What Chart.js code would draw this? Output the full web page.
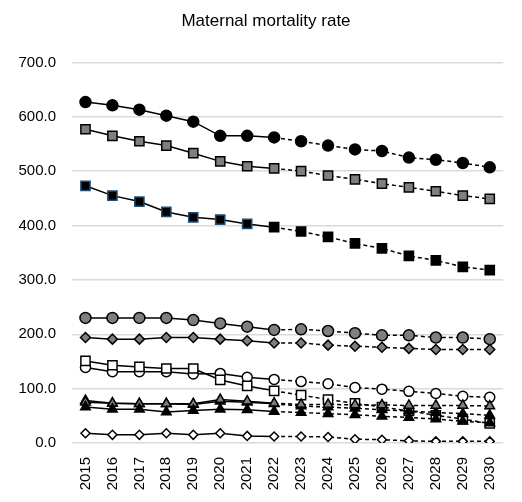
<!DOCTYPE html>
<html>
<head>
<meta charset="utf-8">
<script src="https://cdn.jsdelivr.net/npm/chart.js@4"></script>
<style>
  body{margin:0;background:#fff;overflow:hidden;}
  #wrap{width:522px;height:502px;}
</style>
</head>
<body>
<div id="wrap"><canvas id="chart"></canvas></div>
<script>
// ================= DATA =================
const years = ["2015","2016","2017","2018","2019","2020","2021","2022","2023","2024","2025","2026","2027","2028","2029","2030"];
const yTicks = [0,100,200,300,400,500,600,700];

const blackCircle  = [627,621,613,602,591,565,565,562,555,547,540,537,525,521,515,507];
const greySquare   = [577,565,555,547,533,518,509,505,500,492,485,477,470,463,455,449];
const blackSquare  = [473,455,444,425,415,411,403,397,389,379,367,358,344,336,324,318];
const greyCircle   = [230,230,230,230,226,220,214,208,209,206,202,198,198,194,194,191];
const greyDiamond  = [194,191,191,194,194,191,188,184,184,180,178,176,174,172,172,172];
const whiteCircle  = [139,131,131,131,127,128,121,117,113,109,102,99,95,91,86,84];
const whiteSquare  = [151,143,140,137,137,116,105,96,88,80,73,66,59,51,44,36];
const greyTriangle = [75,73,72,72,72,80,77,73,71,71,70,70,69,69,69,68];
const blackTriA    = [78,73,72,72,71,77,75,72,68,66,64,61,59,56,54,51];
const blackTriB    = [66,62,62,57,60,62,61,58,56,54,52,49,47,44,40,37];
const whiteDiamond = [18,15,15,18,15,18,13,12,12,11,7,6,4,3,3,3];

const lastActual = 7; // 2022: last observed year, dashed after

// ================= SERIES =================
function series(data, style, fill, radius, border){
  return {
    data: data,
    borderColor: "#000",
    borderWidth: 1.5,
    pointStyle: style,
    pointRadius: radius,
    pointBackgroundColor: fill,
    pointBorderColor: border || "#000",
    pointBorderWidth: 1.5,
    fill: false,
    tension: 0,
    segment: {
      borderDash: ctx => ctx.p0DataIndex >= lastActual ? [4,3] : undefined
    }
  };
}

const navyBorder = years.map((y,i)=> i < lastActual ? "#1f4e79" : "#000");

// first dataset is drawn on top
const datasets = [
  series(whiteDiamond, "rectRot", "#fff", 4.5),
  series(blackTriB, "triangle", "#000", 5.5),
  series(greyTriangle, "triangle", "#7f7f7f", 5.5),
  series(blackTriA, "triangle", "#000", 5.5),
  series(whiteSquare, "rect", "#fff", 6.5),
  series(whiteCircle, "circle", "#fff", 5),
  series(greyDiamond, "rectRot", "#7f7f7f", 5),
  series(greyCircle, "circle", "#7f7f7f", 5.5),
  series(blackSquare, "rect", "#000", 6.5, navyBorder),
  series(greySquare, "rect", "#7f7f7f", 6.5),
  series(blackCircle, "circle", "#000", 5.5)
];

const FONT = "Liberation Sans, Arial, sans-serif";

// ================= CHART =================
new Chart(document.getElementById("chart"), {
  type: "line",
  data: { labels: years, datasets: datasets },
  options: {
    responsive: true,
    maintainAspectRatio: false,
    animation: false,
    layout: { padding: { top: 0, left: 0, right: -10, bottom: 0 } },
    plugins: {
      legend: { display: false },
      tooltip: { enabled: false },
      title: {
        display: true,
        text: "Maternal mortality rate",
        color: "#000",
        font: { family: FONT, size: 17, weight: "normal" },
        padding: { top: 11, bottom: 31 }
      }
    },
    scales: {
      x: {
        offset: true,
        grid: { display: false, drawTicks: false },
        border: { display: false },
        afterFit: s => { s.height = 59; },
        ticks: {
          color: "#000",
          minRotation: 90,
          maxRotation: 90,
          padding: 14,
          autoSkip: false,
          font: { family: FONT, size: 15 }
        }
      },
      y: {
        min: 0,
        max: 700,
        afterFit: s => { s.width = 72; },
        afterBuildTicks: axis => { axis.ticks = yTicks.map(v => ({ value: v })); },
        grid: { color: "#d9d9d9", lineWidth: 1.5, drawTicks: false },
        border: { display: false },
        ticks: {
          color: "#000",
          padding: 16,
          font: { family: FONT, size: 15 },
          callback: v => Number(v).toFixed(1)
        }
      }
    }
  }
});
</script>
</body>
</html>
